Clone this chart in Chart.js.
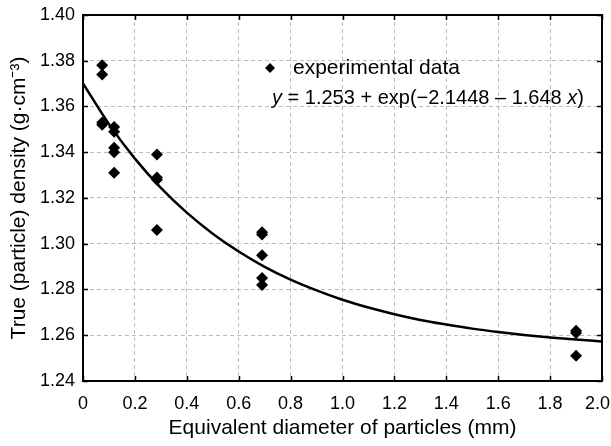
<!DOCTYPE html>
<html>
<head>
<meta charset="utf-8">
<script src="https://cdn.jsdelivr.net/npm/chart.js@4/dist/chart.umd.min.js"></script>
<style>
	html, body { margin: 0; padding: 0; background: #fff; }
	#wrap { width: 611px; height: 446px; }
</style>
</head>
<body>
<div id="wrap"><canvas id="density-chart" width="611" height="446"></canvas></div>
<script>
'use strict';

// Experimental data (diameter in mm, true density in g/cm3)
const expX = [0.074, 0.074, 0.074, 0.074, 0.12, 0.12, 0.12, 0.12, 0.12, 0.285, 0.285, 0.285, 0.285, 0.69, 0.69, 0.69, 0.69, 0.69, 1.9, 1.9, 1.9];
const expY = [1.378, 1.374, 1.353, 1.352, 1.351, 1.349, 1.342, 1.340, 1.331, 1.339, 1.329, 1.328, 1.306, 1.305, 1.304, 1.295, 1.285, 1.282, 1.262, 1.261, 1.251];

// Fitted curve
const fitX = [0, 0.1, 0.2, 0.3, 0.4, 0.5, 0.6, 0.7, 0.8, 0.9, 1.0, 1.1, 1.2, 1.3, 1.4, 1.5, 1.6, 1.7, 1.8, 1.9, 2.0];
const fitY = [1.3701, 1.3523, 1.3372, 1.3244, 1.3136, 1.3044, 1.2966, 1.2899, 1.2843, 1.2796, 1.2755, 1.2721, 1.2692, 1.2667, 1.2647, 1.2629, 1.2614, 1.2601, 1.2590, 1.2581, 1.2573];

// Tick labels
const xTickLabels = ['0', '0.2', '0.4', '0.6', '0.8', '1.0', '1.2', '1.4', '1.6', '1.8', '2.0'];
const yTickLabels = ['1.24', '1.26', '1.28', '1.30', '1.32', '1.34', '1.36', '1.38', '1.40'];

const FONT = 'Arial, "Liberation Sans", sans-serif';

// Frame + inward tick marks on all four sides
const framePlugin = {
	id: 'frame',
	afterDatasetsDraw: function(chart) {
		const ctx = chart.ctx;
		const a = chart.chartArea;
		const xs = chart.scales.x, ys = chart.scales.y;
		const tl = 5;
		ctx.save();
		ctx.strokeStyle = '#000';
		ctx.lineWidth = 1.5;
		ctx.beginPath();
		xs.ticks.forEach(function(t){
			const px = Math.round(xs.getPixelForValue(t.value)) + 0.5;
			ctx.moveTo(px, a.bottom); ctx.lineTo(px, a.bottom - tl);
			ctx.moveTo(px, a.top); ctx.lineTo(px, a.top + tl);
		});
		ys.ticks.forEach(function(t){
			const py = Math.round(ys.getPixelForValue(t.value)) + 0.5;
			ctx.moveTo(a.left, py); ctx.lineTo(a.left + tl, py);
			ctx.moveTo(a.right, py); ctx.lineTo(a.right - tl, py);
		});
		ctx.stroke();
		ctx.lineWidth = 2;
		ctx.strokeRect(a.left, a.top, a.right - a.left, a.bottom - a.top);
		ctx.restore();
	}
};

// Legend entry and fit equation inside the plot
const notePlugin = {
	id: 'note',
	afterDraw: function(chart) {
		const ctx = chart.ctx;
		ctx.save();
		ctx.fillStyle = '#000';
		// diamond marker
		const mx = 270, my = 68, r = 5;
		ctx.beginPath();
		ctx.moveTo(mx, my - r); ctx.lineTo(mx + r, my); ctx.lineTo(mx, my + r); ctx.lineTo(mx - r, my);
		ctx.closePath();
		ctx.fill();
		ctx.textBaseline = 'middle';
		ctx.font = '21px ' + FONT;
		ctx.fillText('experimental data', 293, 68);

		// equation with italic variables
		const parts = [
			['italic', 'y'],
			['normal', ' = 1.253 + exp(\u22122.1448 \u2013 1.648 '],
			['italic', 'x'],
			['normal', ')']
		];
		let x = 272;
		parts.forEach(function(p){
			ctx.font = p[0] + ' 20px ' + FONT;
			ctx.fillText(p[1], x, 98);
			x += ctx.measureText(p[1]).width;
		});
		ctx.restore();
	}
};

const ctx = document.getElementById('density-chart').getContext('2d');

new Chart(ctx, {
	type: 'scatter',
	data: {
		datasets: [{
			label: 'experimental data',
			data: expX.map(function(x, i){ return { x: x, y: expY[i] }; }),
			pointStyle: 'rectRot',
			pointRadius: 6,
			backgroundColor: '#000',
			borderColor: '#000',
			borderWidth: 0,
			order: 1
		}, {
			label: 'fit',
			type: 'line',
			data: fitX.map(function(x, i){ return { x: x, y: fitY[i] }; }),
			borderColor: '#000',
			borderWidth: 2.5,
			pointRadius: 0,
			tension: 0.4,
			cubicInterpolationMode: 'monotone',
			fill: false,
			order: 0
		}]
	},
	options: {
		responsive: false,
		animation: false,
		layout: { padding: { top: 15, right: 9, left: 0, bottom: 0 } },
		plugins: {
			legend: { display: false },
			tooltip: { enabled: false }
		},
		scales: {
			x: {
				type: 'linear',
				min: 0, max: 2.0,
				afterBuildTicks: function(scale){
					scale.ticks = xTickLabels.map(function(s){ return { value: parseFloat(s) }; });
				},
				afterFit: function(scale){
					scale.height = 65;
					scale.paddingLeft = 0;
					scale.paddingRight = 0;
				},
				ticks: {
					color: '#000',
					font: { family: FONT, size: 18 },
					padding: 12,
					maxRotation: 0,
					autoSkip: false,
					callback: function(v, i){
						// last label sits a little left so it stays inside the page
						return i === xTickLabels.length - 1 ? xTickLabels[i] + '\u2002' : xTickLabels[i];
					}
				},
				grid: { color: '#bdbdbd', lineWidth: 1, drawTicks: false },
				border: { display: false, dash: [4, 3] },
				title: {
					display: true,
					text: 'Equivalent diameter of particles (mm)',
					color: '#000',
					font: { family: FONT, size: 21 },
					padding: { top: 0, bottom: 5 }
				}
			},
			y: {
				type: 'linear',
				min: 1.24, max: 1.40,
				afterBuildTicks: function(scale){
					scale.ticks = yTickLabels.map(function(s){ return { value: parseFloat(s) }; });
				},
				afterFit: function(scale){
					scale.width = 83;
					scale.paddingTop = 0;
					scale.paddingBottom = 0;
				},
				ticks: {
					color: '#000',
					font: { family: FONT, size: 18 },
					padding: 8,
					autoSkip: false,
					callback: function(v, i){ return yTickLabels[i]; }
				},
				grid: { color: '#bdbdbd', lineWidth: 1, drawTicks: false },
				border: { display: false, dash: [4, 3] },
				title: {
					display: true,
					text: 'True (particle) density (g\u00b7cm\u207b\u00b3)',
					color: '#000',
					font: { family: FONT, size: 21 },
					padding: { top: 7, bottom: 0 }
				}
			}
		}
	},
	plugins: [framePlugin, notePlugin]
});
</script>
</body>
</html>
